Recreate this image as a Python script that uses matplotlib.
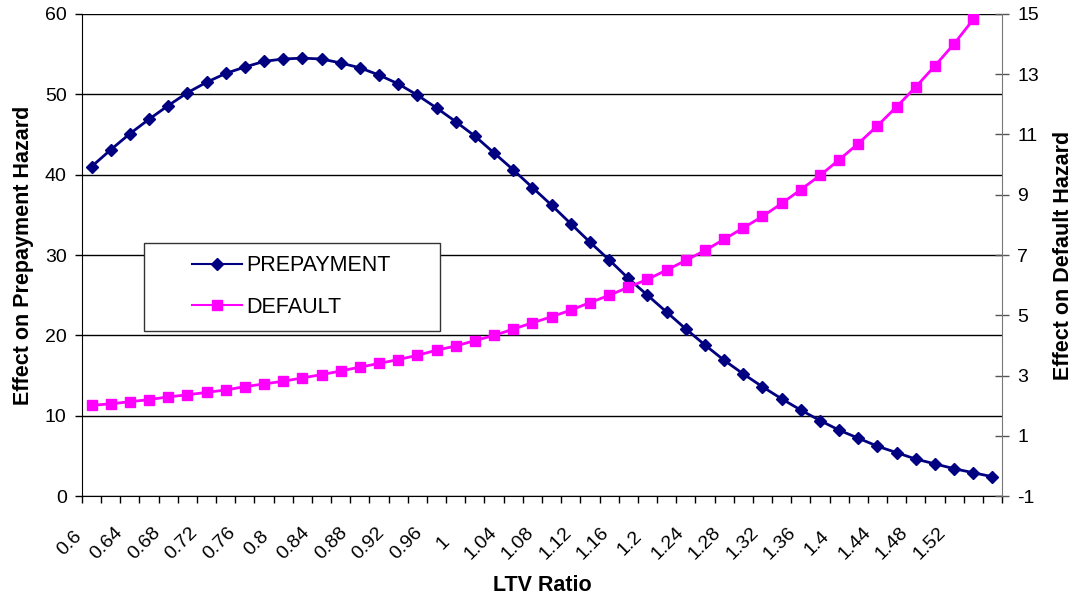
import numpy as np
import matplotlib
matplotlib.use("Agg")
import matplotlib.pyplot as plt
import matplotlib.transforms as mtransforms
from matplotlib.patches import Rectangle
from matplotlib.lines import Line2D
from matplotlib.ticker import FixedLocator, NullFormatter

plt.rcParams["font.family"] = ["Liberation Sans", "DejaVu Sans"]
plt.rcParams["axes.unicode_minus"] = False

ltv = [0.60, 0.62, 0.64, 0.66, 0.68, 0.70, 0.72, 0.74, 0.76, 0.78,
       0.80, 0.82, 0.84, 0.86, 0.88, 0.90, 0.92, 0.94, 0.96, 0.98,
       1.00, 1.02, 1.04, 1.06, 1.08, 1.10, 1.12, 1.14, 1.16, 1.18,
       1.20, 1.22, 1.24, 1.26, 1.28, 1.30, 1.32, 1.34, 1.36, 1.38,
       1.40, 1.42, 1.44, 1.46, 1.48, 1.50, 1.52, 1.54]

prepayment = [41.0, 43.1, 45.1, 46.9, 48.6, 50.2, 51.5, 52.6, 53.4, 54.1,
              54.4, 54.5, 54.4, 53.9, 53.3, 52.4, 51.3, 49.9, 48.3, 46.6,
              44.8, 42.7, 40.6, 38.4, 36.2, 33.9, 31.6, 29.4, 27.1, 25.0,
              22.9, 20.8, 18.8, 16.9, 15.2, 13.6, 12.1, 10.7, 9.4, 8.2,
              7.2, 6.2, 5.4, 4.6, 4.0, 3.4, 2.9, 2.4]

default = [2.01, 2.06, 2.13, 2.20, 2.29, 2.36, 2.44, 2.52, 2.63, 2.72,
           2.81, 2.92, 3.03, 3.15, 3.28, 3.40, 3.53, 3.67, 3.84, 3.98,
           4.16, 4.33, 4.54, 4.75, 4.95, 5.17, 5.42, 5.66, 5.93, 6.19,
           6.50, 6.82, 7.15, 7.52, 7.90, 8.28, 8.71, 9.17, 9.64, 10.16,
           10.70, 11.29, 11.92, 12.58, 13.28, 14.01, 14.82, 15.65]

NAVY = "#000080"
MAGENTA = "#FF00FF"

x = np.arange(len(ltv))
tick_labels = [f"{v:g}" for v in ltv]

fig = plt.figure(figsize=(10.77, 6.0), dpi=100)
ax = fig.add_axes([0.0761, 0.1733, 0.8543, 0.8034])
ax2 = ax.twinx()

ax.plot(x, prepayment, color=NAVY, lw=2, marker="D", ms=6.5)
ax2.plot(x, default, color=MAGENTA, lw=2, marker="s", ms=6.8)

ax.set_ylim(0, 60)
ax2.set_ylim(-1, 15)
ax.set_yticks(range(0, 61, 10))
ax2.set_yticks(range(-1, 16, 2))

# category axis: tick marks between categories
ax.xaxis.set_major_locator(FixedLocator(np.arange(len(ltv) + 1) - 0.5))
ax.xaxis.set_major_formatter(NullFormatter())
ax.set_xlim(-0.5, len(ltv) - 0.5)
ax.tick_params(axis="x", length=5, direction="out", width=1)

# rotated labels every other category, drifting a little left (Excel style)
for k, (xi, lab) in enumerate(zip(x[::2], tick_labels[::2])):
    tf = ax.get_xaxis_transform() + mtransforms.ScaledTranslation(
        -(22 + 0.95 * k) / 100, -0.47, fig.dpi_scale_trans)
    ax.text(xi, 0, lab, transform=tf, rotation=45, ha="center",
            va="center", rotation_mode="anchor", fontsize=14)

ax.tick_params(axis="y", length=5, direction="out", labelsize=14, width=1, pad=6)
ax2.tick_params(axis="y", length=10, direction="inout", labelsize=14,
                width=1, color="#555555", pad=6)

ax.grid(axis="y", color="black", lw=1)
ax.set_axisbelow(True)
for a in (ax, ax2):
    a.spines["top"].set_visible(False)
ax2.spines["left"].set_visible(False)
ax2.spines["bottom"].set_visible(False)
ax2.spines["right"].set_color("#777777")
ax.spines["right"].set_visible(False)

ax.set_xlabel("LTV Ratio", fontsize=15.5, fontweight="bold", va="center")
ax.xaxis.set_label_coords(0.5, -0.185)
ax.set_ylabel("Effect on Prepayment Hazard", fontsize=15.5, fontweight="bold", labelpad=8)
ax2.set_ylabel("Effect on Default Hazard", fontsize=15.5, fontweight="bold", labelpad=10)

# legend box
box = Rectangle((0.0674, 0.342), 0.3217, 0.183, transform=ax.transAxes,
                facecolor="white", edgecolor="#333333", lw=1, zorder=5,
                clip_on=False)
ax2.add_patch(box)
handles = [Line2D([], [], color=NAVY, lw=1.5, marker="D", ms=6),
           Line2D([], [], color=MAGENTA, lw=1.5, marker="s", ms=7)]
leg = ax2.legend(handles, ["PREPAYMENT", "DEFAULT"], loc="center left",
                 bbox_to_anchor=(0.1196, 0.4346), frameon=False,
                 borderpad=0, borderaxespad=0, handlelength=2.3,
                 handletextpad=0.2, labelspacing=0.95, fontsize=15.5)
leg.set_zorder(6)

fig.savefig("out.png", dpi=100)
